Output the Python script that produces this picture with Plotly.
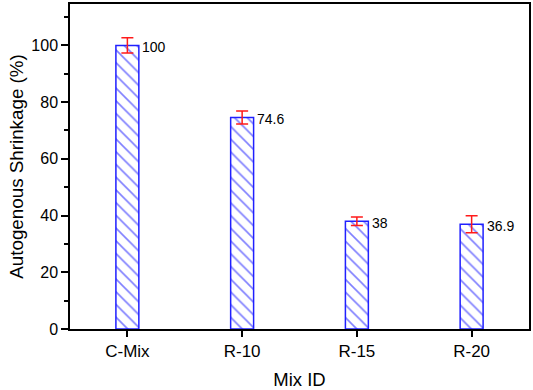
import plotly.graph_objects as go

categories = ["C-Mix", "R-10", "R-15", "R-20"]
values = [100, 74.6, 38, 36.9]
errors = [2.7, 2.3, 1.5, 3.0]
labels = ["100", "74.6", "38", "36.9"]

FONT = "Liberation Sans, Arial"

fig = go.Figure()
fig.add_trace(go.Bar(
    x=categories, y=values, width=0.2,
    marker=dict(color="white", line=dict(color="#2020ff", width=1.5),
                pattern=dict(shape="\\", fgcolor="#0000ff", bgcolor="white", size=9, solidity=0.18)),
    error_y=dict(type="data", array=errors, visible=True, color="#ff1a1a", thickness=1.5, width=6),
    showlegend=False,
))
for c, v, t in zip(categories, values, labels):
    fig.add_annotation(x=c, y=v, text=t, showarrow=False, xanchor="left", xshift=13, yshift=-2,
                       font=dict(family=FONT, size=14, color="black"))

fig.update_layout(
    width=533, height=390,
    margin=dict(l=70, r=2, t=2, b=59),
    plot_bgcolor="white", paper_bgcolor="white",
    font=dict(family=FONT, size=16, color="black"),
    xaxis=dict(title=dict(text="Mix ID", font=dict(size=18.5), standoff=14), range=[-0.5, 3.5],
               tickfont=dict(size=17),
               showline=True, linecolor="black", linewidth=1.5, mirror=True,
               ticks="outside", ticklen=6, tickwidth=1.5, tickcolor="black", showgrid=False),
    yaxis=dict(title=dict(text="Autogenous Shrinkage (%)", font=dict(size=18.8), standoff=3),
               range=[0, 114.6], tickvals=[0, 20, 40, 60, 80, 100],
               tickfont=dict(size=16),
               showline=True, linecolor="black", linewidth=1.5, mirror=True,
               ticks="outside", ticklen=7, tickwidth=1.5, tickcolor="black", showgrid=False, zeroline=False,
               minor=dict(tickvals=[10, 30, 50, 70, 90, 110], ticks="outside", ticklen=4, tickwidth=1.5, tickcolor="black")),
)
fig.write_html("out.html", config={"displayModeBar": False},
               post_script="document.body.style.margin='0';document.body.style.overflow='hidden';")
